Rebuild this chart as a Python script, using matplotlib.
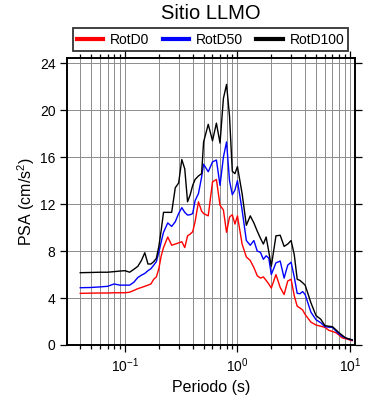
import matplotlib
matplotlib.use('Agg')
import matplotlib.pyplot as plt
from matplotlib.ticker import LogLocator, MultipleLocator, NullFormatter

plt.rcParams['font.family'] = ['Liberation Sans', 'DejaVu Sans']
plt.rcParams['mathtext.fontset'] = 'custom'
plt.rcParams['mathtext.rm'] = 'Liberation Sans'
plt.rcParams['mathtext.it'] = 'Liberation Sans:italic'

# periodos (s)
periodo = [0.04, 0.05, 0.06, 0.07, 0.08, 0.09, 0.10, 0.11, 0.12, 0.13, 0.14,
           0.15, 0.16, 0.17, 0.18, 0.19, 0.20, 0.21, 0.22, 0.24, 0.26, 0.28,
           0.30, 0.32, 0.34, 0.36, 0.38, 0.40, 0.42, 0.45, 0.48, 0.50, 0.55,
           0.60, 0.65, 0.70, 0.75, 0.80, 0.85, 0.90, 0.95, 1.0, 1.1, 1.2, 1.3,
           1.4, 1.5, 1.6, 1.7, 1.8, 1.9, 2.0, 2.2, 2.4, 2.6, 2.8, 3.0, 3.2,
           3.4, 3.6, 3.8, 4.0, 4.5, 5.0, 5.5, 6.0, 6.5, 7.0, 7.5, 8.0, 8.5,
           9.0, 9.5, 10.0, 10.5]

rotd0 = [4.40, 4.42, 4.43, 4.43, 4.45, 4.45, 4.45, 4.50, 4.65, 4.80, 4.90,
         5.00, 5.10, 5.20, 5.60, 5.80, 6.50, 7.60, 8.30, 9.20, 8.50, 8.60,
         8.70, 8.80, 8.30, 9.30, 9.45, 9.65, 10.5, 12.2, 11.4, 11.2, 11.0,
         13.9, 14.1, 11.9, 11.5, 9.60, 10.9, 11.1, 10.3, 11.0, 8.60, 7.50, 7.20,
         6.60, 5.90, 5.70, 5.80, 5.50, 5.20, 4.85, 6.00, 4.90, 4.30, 5.45, 5.60, 4.20,
         3.30, 3.15, 2.98, 2.60, 1.95, 1.70, 1.60, 1.50, 1.25, 1.15, 1.05, 0.85, 0.62,
         0.55, 0.50, 0.42, 0.37]

rotd50 = [4.88, 4.90, 4.95, 5.00, 5.20, 5.10, 5.10, 5.10, 5.35, 5.75, 5.95,
          6.10, 6.33, 6.50, 6.80, 7.10, 7.90, 8.80, 9.60, 10.4, 10.1, 10.5,
          11.2, 11.7, 11.3, 11.07, 11.1, 11.2, 12.3, 12.9, 14.3, 15.4, 14.76,
          15.6, 15.76, 13.6, 16.0, 17.3, 14.0, 12.8, 13.2, 14.0, 11.5, 8.90, 8.50,
          8.90, 8.00, 7.90, 7.30, 7.60, 7.40, 6.00, 7.00, 7.15, 5.70, 6.80, 7.05, 5.80,
          4.40, 4.37, 4.55, 4.30, 2.80, 2.15, 1.90, 1.56, 1.52, 1.50, 1.20, 0.95, 0.75,
          0.63, 0.55, 0.48, 0.43]

rotd100 = [6.16, 6.18, 6.20, 6.20, 6.25, 6.30, 6.33, 6.20, 6.45, 6.70, 7.20,
           7.86, 6.90, 6.90, 7.10, 7.38, 8.40, 9.80, 11.3, 11.3, 11.3, 13.4,
           13.8, 15.8, 15.0, 12.2, 12.8, 13.6, 14.1, 14.4, 14.6, 17.3, 18.8,
           17.4, 18.9, 17.2, 21.0, 22.2, 19.5, 14.8, 14.6, 15.2, 12.9, 10.2, 11.0,
           10.4, 9.70, 9.10, 8.60, 9.20, 7.95, 6.70, 9.30, 9.35, 8.40, 8.60, 8.90, 7.70,
           5.60, 5.50, 5.30, 5.10, 3.60, 2.50, 2.20, 1.65, 1.60, 1.56, 1.30, 1.05, 0.85,
           0.65, 0.55, 0.50, 0.43]

series = [('RotD0', rotd0, 'red'), ('RotD50', rotd50, 'blue'), ('RotD100', rotd100, 'black')]

fig = plt.figure(figsize=(3.9, 4.0), dpi=100)
ax = fig.add_axes([0.171, 0.1375, 0.739, 0.7175])

for name, vals, col in series:
    ax.plot(periodo, vals, color=col, lw=1.0, label=name, zorder=3)

ax.set_xscale('log')
ax.set_xlim(0.0303, 11.08)
ax.set_ylim(0, 24.45)
ax.yaxis.set_major_locator(MultipleLocator(4))
ax.xaxis.set_major_locator(LogLocator(base=10, numticks=10))
ax.xaxis.set_minor_locator(LogLocator(base=10, subs=range(2, 10), numticks=20))
ax.xaxis.set_minor_formatter(NullFormatter())

ax.grid(True, which='both', axis='x', color='#8c8c8c', lw=0.7)
ax.grid(True, which='major', axis='y', color='#8c8c8c', lw=0.7)
for gl in ax.get_ygridlines():
    if gl.get_ydata()[0] >= 24:
        gl.set_visible(False)
ax.set_axisbelow(True)

ax.tick_params(which='both', direction='out', top=True, right=True,
               labelsize=10, width=0.9, color='black')
ax.tick_params(which='major', length=5, pad=3)
ax.tick_params(which='minor', length=3)
for sp in ax.spines.values():
    sp.set_linewidth(1.4)

ax.set_xlabel('Periodo (s)', fontsize=11.5, labelpad=4)
ax.set_ylabel('PSA (cm/s$^2$)', fontsize=11.5, labelpad=2)
fig.text(0.54, 0.967, 'Sitio LLMO', ha='center', va='center', fontsize=14.5)

leg = ax.legend(loc='center', bbox_to_anchor=(210.5 / 390, 1 - 39.5 / 400),
                bbox_transform=fig.transFigure, ncol=3, fontsize=10,
                frameon=True, fancybox=False, edgecolor='black',
                handlelength=1.9, handletextpad=0.5, columnspacing=0.95,
                borderpad=0.3, borderaxespad=0)
leg.get_frame().set_linewidth(1.3)
for ln in leg.get_lines():
    ln.set_linewidth(3)

fig.savefig('out.png', dpi=100)
